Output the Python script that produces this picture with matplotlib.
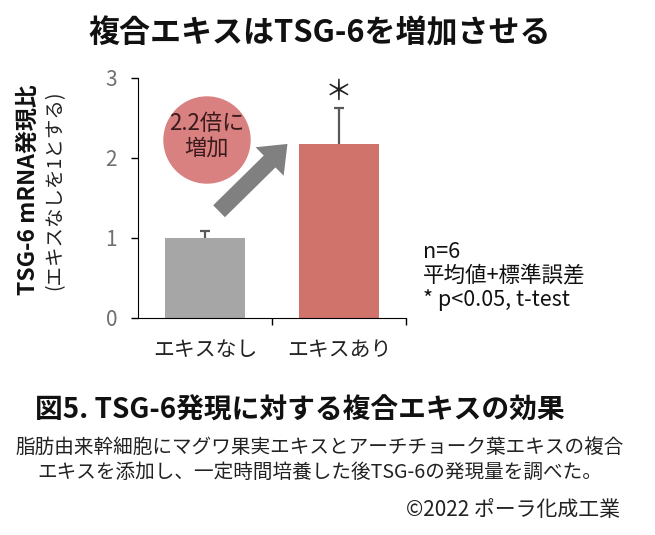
import matplotlib.pyplot as plt
from matplotlib.patches import Ellipse, FancyArrowPatch

plt.rcParams['font.family'] = ['Noto Sans CJK JP', 'DejaVu Sans']

# data
categories = ["エキスなし", "エキスあり"]
values = [1.0, 2.18]
errors = [0.09, 0.45]
bar_colors = ["#A6A6A6", "#D0736A"]
yticks = [0, 1, 2, 3]

fig = plt.figure(figsize=(6.55, 5.35), dpi=100)
ax = fig.add_axes([138 / 655, 1 - 318 / 535, 268 / 655, 240 / 535])

x = list(range(len(categories)))
ax.bar(x, values, width=0.59, color=bar_colors, zorder=2)
# upper-only error bars
tops = [v + e for v, e in zip(values, errors)]
ax.vlines(x, values, tops, color="#595959", lw=1.6, zorder=1)
ax.hlines(tops, [i - 0.035 for i in x], [i + 0.035 for i in x], color="#595959", lw=1.6, zorder=1)
ax.text(1, 2.82, "＊", ha="center", va="center", fontsize=20, color="#222222")

ax.set_xlim(-0.5, 1.5)
ax.set_ylim(0, 3)
ax.set_yticks(yticks)
ax.set_yticklabels([str(t) for t in yticks], fontsize=15, color="#707070")
ax.set_xticks([0.5, 1.5])
ax.set_xticklabels([])
ax.tick_params(axis="y", length=5, width=1, pad=10)
ax.tick_params(axis="x", length=5, width=1)
for i, c in enumerate(categories):
    ax.text(i, -0.4, c, ha="center", va="center", fontsize=15, color="#222222")
ax.spines["top"].set_visible(False)
ax.spines["right"].set_visible(False)
ax.patch.set_alpha(0)

# bubble and arrow
fig.patches.append(Ellipse((207 / 655, 1 - 140 / 535), 86 / 655, 86 / 535,
                           transform=fig.transFigure, color="#D98080", zorder=0))
fig.text(207 / 655, 1 - 136 / 535, "2.2倍に\n増加", ha="center", va="center",
         fontsize=16, color="#3a1a1a", linespacing=1.1)
arrow = FancyArrowPatch((0.09, 1.31), (0.63, 2.2),
                        arrowstyle="simple,head_length=1.5,head_width=2.4,tail_width=1.0",
                        mutation_scale=12, color="#808080", lw=0, zorder=3)
ax.add_patch(arrow)

# titles and labels
fig.text(320 / 655, 1 - 33 / 535, "複合エキスはTSG-6を増加させる", ha="center", va="center",
         fontsize=22.3, fontweight="bold", color="#111111")
fig.text(28 / 655, 1 - 190 / 535, "TSG-6 mRNA発現比", rotation=90, ha="center", va="center",
         fontsize=16.5, fontweight="bold", color="#111111")
fig.text(55 / 655, 1 - 190 / 535, "(エキスなしを1とする)", rotation=90, ha="center", va="center",
         fontsize=14, color="#222222")
fig.text(423 / 655, 1 - 276 / 535, "n=6\n平均値+標準誤差\n* p<0.05, t-test", ha="left", va="center",
         fontsize=15.5, color="#111111", linespacing=1.12)

fig.text(35 / 655, 1 - 411 / 535, "図5. TSG-6発現に対する複合エキスの効果", ha="left", va="center",
         fontsize=20, fontweight="bold", color="#111111")
fig.text(320 / 655, 1 - 460 / 535,
         "脂肪由来幹細胞にマグワ果実エキスとアーチチョーク葉エキスの複合\nエキスを添加し、一定時間培養した後TSG-6の発現量を調べた。",
         ha="center", va="center", fontsize=14.1, color="#222222", linespacing=1.2)
fig.text(620 / 655, 1 - 510 / 535, "©2022 ポーラ化成工業", ha="right", va="center",
         fontsize=15, color="#222222")

fig.savefig("out.png", dpi=100)
